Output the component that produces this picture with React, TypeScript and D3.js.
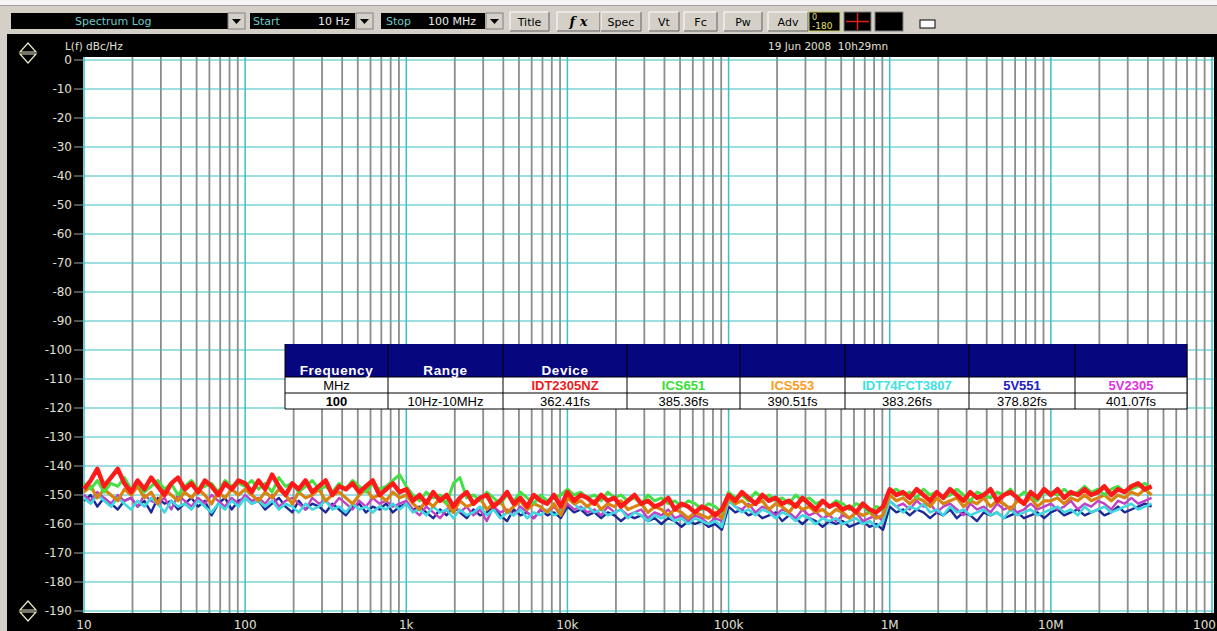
import React from "react";
import * as d3 from "d3";

const W = 1217;
const H = 631;

// Frequency sample grid (typed mantissas per decade, 24 per decade)
const MANT = [1, 1.1, 1.21, 1.33, 1.47, 1.62, 1.78, 1.96, 2.15, 2.37, 2.61, 2.87, 3.16, 3.48, 3.83, 4.22, 4.64, 5.11, 5.62, 6.19, 6.81, 7.5, 8.25, 9.09];
const DECADES = [10, 100, 1e3, 1e4, 1e5, 1e6, 1e7];
const FREQS = DECADES.flatMap((d, i) => (i < 6 ? MANT : MANT.slice(0, 16)).map((m) => m * d));

// Phase noise traces, dBc/Hz, one decade per line
const IDT2305NZ = [
  -148, -145, -141, -147, -144, -141, -146, -149, -145, -148, -144, -147, -150, -146, -144, -148, -146, -149, -145, -147, -150, -146, -148, -145,
  -146, -149, -145, -148, -143, -147, -150, -146, -148, -145, -149, -147, -145, -150, -147, -148, -146, -149, -147, -145, -150, -148, -146, -149,
  -148, -152, -150, -153, -149, -152, -150, -154, -151, -149, -153, -151, -150, -154, -152, -149, -153, -151, -154, -150, -152, -153, -150, -154,
  -149, -152, -150, -151, -153, -150, -152, -151, -154, -152, -150, -153, -152, -154, -153, -151, -155, -153, -154, -156, -154, -155, -157, -155,
  -150, -152, -149, -151, -153, -150, -152, -151, -153, -152, -154, -151, -153, -155, -152, -154, -153, -155, -154, -156, -153, -155, -156, -154,
  -148, -150, -149, -151, -148, -150, -152, -149, -151, -148, -150, -152, -149, -151, -150, -148, -152, -150, -149, -151, -153, -149, -151, -148,
  -150, -148, -151, -149, -150, -148, -150, -149, -147, -150, -148, -149, -147, -146, -148, -147,
];
const ICS651 = [
  -146, -148, -145, -149, -146, -147, -144, -148, -146, -149, -147, -145, -148, -146, -150, -147, -145, -148, -147, -146, -149, -145, -147, -146,
  -147, -145, -148, -146, -149, -144, -147, -146, -149, -147, -145, -148, -147, -149, -146, -148, -145, -147, -149, -146, -148, -147, -145, -143,
  -147, -150, -152, -149, -151, -150, -153, -146, -144, -151, -150, -152, -149, -151, -153, -150, -152, -149, -151, -153, -150, -152, -151, -150,
  -148, -150, -149, -151, -150, -152, -149, -151, -150, -152, -151, -153, -150, -152, -151, -153, -152, -154, -152, -153, -155, -153, -154, -156,
  -149, -151, -150, -152, -149, -151, -150, -152, -151, -153, -150, -152, -151, -153, -152, -154, -152, -153, -155, -153, -154, -156, -154, -155,
  -149, -148, -150, -149, -151, -148, -150, -149, -151, -150, -148, -150, -152, -149, -150, -151, -149, -150, -148, -151, -149, -150, -152, -149,
  -149, -150, -148, -150, -149, -147, -149, -148, -150, -148, -147, -149, -148, -147, -146, -148,
];
const ICS553 = [
  -149, -147, -151, -148, -150, -152, -148, -150, -147, -151, -149, -153, -148, -150, -152, -149, -151, -148, -150, -153, -149, -151, -148, -150,
  -148, -150, -152, -149, -151, -148, -150, -153, -149, -151, -150, -148, -152, -150, -149, -151, -153, -150, -148, -151, -150, -152, -149, -151,
  -150, -153, -155, -152, -154, -151, -153, -156, -152, -154, -153, -151, -155, -153, -152, -156, -154, -152, -155, -153, -154, -156, -153, -157,
  -151, -153, -152, -154, -152, -155, -153, -154, -152, -155, -154, -153, -156, -154, -155, -157, -155, -156, -158, -156, -157, -158, -156, -158,
  -151, -153, -152, -154, -153, -152, -155, -153, -154, -156, -153, -155, -154, -156, -155, -157, -155, -156, -158, -156, -157, -156, -158, -157,
  -150, -152, -151, -153, -151, -152, -154, -151, -153, -152, -151, -154, -152, -153, -151, -154, -152, -153, -155, -152, -153, -151, -154, -152,
  -152, -151, -153, -151, -152, -150, -152, -151, -150, -152, -150, -151, -149, -150, -148, -150,
];
const V2305 = [
  -150, -152, -149, -151, -153, -150, -152, -151, -154, -150, -152, -153, -151, -155, -150, -152, -154, -151, -153, -150, -152, -154, -151, -153,
  -150, -152, -151, -153, -150, -154, -152, -151, -153, -155, -151, -153, -152, -154, -151, -153, -155, -152, -154, -151, -153, -152, -154, -153,
  -152, -155, -157, -154, -156, -158, -155, -153, -156, -154, -157, -155, -159, -154, -156, -155, -157, -154, -156, -158, -155, -156, -154, -157,
  -153, -155, -154, -156, -155, -157, -154, -156, -155, -157, -156, -155, -158, -156, -157, -155, -158, -157, -159, -157, -158, -160, -158, -159,
  -152, -154, -155, -153, -156, -154, -155, -157, -155, -156, -158, -155, -157, -156, -158, -157, -159, -157, -158, -156, -159, -158, -157, -159,
  -152, -154, -153, -155, -152, -154, -153, -156, -154, -153, -155, -157, -153, -155, -154, -156, -153, -155, -154, -156, -155, -153, -155, -154,
  -153, -155, -154, -152, -155, -153, -154, -152, -153, -155, -152, -153, -151, -153, -152, -151,
];
const IDT74FCT3807 = [
  -151, -153, -150, -152, -154, -151, -153, -155, -152, -154, -151, -153, -156, -152, -154, -153, -155, -152, -154, -156, -153, -155, -152, -154,
  -151, -153, -152, -154, -152, -155, -153, -154, -156, -153, -155, -154, -152, -155, -154, -156, -153, -155, -154, -156, -154, -155, -153, -155,
  -153, -156, -155, -157, -154, -156, -155, -158, -155, -157, -156, -154, -157, -155, -158, -156, -157, -155, -158, -156, -157, -155, -157, -156,
  -151, -153, -155, -154, -156, -155, -157, -156, -155, -158, -156, -157, -159, -157, -158, -157, -159, -158, -160, -158, -159, -160, -159, -161,
  -152, -154, -156, -155, -157, -155, -156, -158, -156, -157, -159, -157, -158, -160, -158, -159, -158, -160, -159, -158, -160, -159, -161, -159,
  -152, -154, -156, -154, -155, -153, -156, -155, -157, -154, -156, -155, -157, -156, -155, -157, -156, -158, -155, -157, -156, -155, -157, -156,
  -155, -154, -156, -155, -157, -154, -156, -155, -154, -156, -155, -154, -153, -155, -154, -153,
];
const V551 = [
  -152, -150, -154, -151, -153, -155, -152, -151, -154, -152, -156, -151, -153, -152, -155, -153, -151, -154, -152, -157, -153, -151, -155, -152,
  -151, -153, -152, -155, -153, -151, -154, -156, -152, -155, -153, -154, -156, -153, -155, -157, -154, -153, -156, -154, -155, -153, -156, -154,
  -153, -155, -154, -156, -158, -155, -157, -154, -156, -158, -155, -157, -156, -154, -157, -159, -155, -157, -156, -158, -155, -157, -156, -158,
  -154, -156, -155, -157, -156, -158, -156, -157, -159, -157, -158, -157, -159, -158, -160, -158, -159, -161, -159, -160, -159, -161, -160, -162,
  -154, -156, -155, -157, -156, -158, -157, -156, -159, -157, -158, -160, -158, -159, -161, -159, -160, -159, -161, -160, -159, -161, -160, -162,
  -154, -156, -155, -157, -155, -156, -158, -156, -157, -155, -158, -156, -157, -159, -156, -157, -156, -158, -157, -156, -158, -157, -156, -158,
  -156, -155, -157, -156, -155, -157, -156, -155, -157, -156, -154, -156, -155, -154, -153, -154,
];

// draw order: bottom first, red last
const SERIES = [
  { name: "5V551", values: V551, color: "#1c2896", width: 2.4 },
  { name: "5V2305", values: V2305, color: "#c040c8", width: 2.4 },
  { name: "IDT74FCT3807", values: IDT74FCT3807, color: "#40d8e0", width: 2.6 },
  { name: "ICS553", values: ICS553, color: "#d8840e", width: 3.2 },
  { name: "ICS651", values: ICS651, color: "#44e044", width: 3 },
  { name: "IDT2305NZ", values: IDT2305NZ, color: "#ff1a1a", width: 4.5 },
];

// Table
const TABLE_DEVICES = ["IDT2305NZ", "ICS651", "ICS553", "IDT74FCT3807", "5V551", "5V2305"];
const TABLE_COLORS = ["#ee1c1c", "#33e033", "#ff9a1a", "#40e0e0", "#2020c0", "#e030e0"];
const TABLE_JITTER = ["362.41fs", "385.36fs", "390.51fs", "383.26fs", "378.82fs", "401.07fs"];
const TABLE_COLS = [285, 388, 503, 627, 740, 845, 969, 1075, 1187];

const Y_TICKS = [0, -10, -20, -30, -40, -50, -60, -70, -80, -90, -100, -110, -120, -130, -140, -150, -160, -170, -180, -190];
const X_DECADES = [10, 100, 1e3, 1e4, 1e5, 1e6, 1e7, 1e8];
const X_LABELS = ["10", "100", "1k", "10k", "100k", "1M", "10M", "100"];

const TOOL_BUTTONS = [
  { label: "Title", x0: 510, x1: 549 },
  { label: "f x", x0: 557, x1: 600, italic: true },
  { label: "Spec", x0: 601, x1: 641 },
  { label: "Vt", x0: 649, x1: 679 },
  { label: "Fc", x0: 684, x1: 717 },
  { label: "Pw", x0: 724, x1: 762 },
  { label: "Adv", x0: 768, x1: 808 },
];

const x = d3.scaleLog().domain([10, 1e8]).range([84, 1212]);
const y = d3.scaleLinear().domain([0, -190]).range([60, 611]);

const UI_FONT = "'DejaVu Sans', Verdana, sans-serif";
const TABLE_FONT = "'Liberation Sans', Arial, sans-serif";

function Button({ label, x0, x1, italic }: { label: string; x0: number; x1: number; italic?: boolean }) {
  const y0 = 12, y1 = 31;
  return (
    <g>
      <rect x={x0} y={y0} width={x1 - x0} height={y1 - y0} fill="#d4d0c8" />
      <path d={`M${x0},${y1} L${x0},${y0} L${x1},${y0}`} stroke="#ffffff" fill="none" />
      <path d={`M${x0},${y1} L${x1},${y1} L${x1},${y0}`} stroke="#606060" fill="none" />
      <text
        x={(x0 + x1) / 2}
        y={26}
        textAnchor="middle"
        fontFamily={italic ? "'DejaVu Serif', serif" : UI_FONT}
        fontSize={italic ? 13 : 11}
        fontWeight={italic ? "bold" : "normal"}
        fontStyle={italic ? "italic" : "normal"}
        fill="#000"
      >
        {label}
      </text>
    </g>
  );
}

function Dropdown({ x0 }: { x0: number }) {
  return (
    <g>
      <rect x={x0} y={13} width={17} height={16} fill="#d4d0c8" stroke="#808080" />
      <path d={`M${x0 + 4},${19} L${x0 + 13},${19} L${x0 + 8.5},${24} Z`} fill="#000" />
    </g>
  );
}

function Arrows({ cx, cy }: { cx: number; cy: number }) {
  return (
    <g stroke="#e8e8c8" strokeWidth={1.2} fill="none">
      <path d={`M${cx},${cy - 10} L${cx - 8},${cy - 1} L${cx + 8},${cy - 1} Z`} />
      <path d={`M${cx - 8},${cy + 1} L${cx + 8},${cy + 1} L${cx},${cy + 10} Z`} />
    </g>
  );
}

export default function App() {
  const minorFreqs: number[] = [];
  X_DECADES.slice(0, 7).forEach((d) => {
    [2, 3, 4, 5, 6, 7, 8, 9].forEach((m) => minorFreqs.push(m * d));
  });
  const line = d3
    .line<number>()
    .defined((_, i) => i < FREQS.length)
    .x((_, i) => x(FREQS[i]))
    .y((v) => y(v));

  const rowTop = 344, row2 = 377, row3 = 393, rowEnd = 409;

  return (
    <div style={{ position: "fixed", left: 0, top: 0, width: W, height: H }}>
      <svg width={W} height={H} style={{ display: "block" }}>
        {/* window frame */}
        <rect x={0} y={0} width={W} height={H} fill="#d4d0c8" />
        <rect x={0} y={0} width={W} height={5} fill="#f4f4f4" />
        <line x1={0} x2={W} y1={5.5} y2={5.5} stroke="#a0a0a0" />
        <rect x={7} y={34} width={W - 7} height={H - 34} fill="#000" />

        {/* toolbar */}
        <rect x={11} y={13} width={217} height={16} fill="#000" />
        <text x={75} y={25} fontFamily={UI_FONT} fontSize={11} fill="#6fc8c8">Spectrum Log</text>
        <Dropdown x0={228} />
        <rect x={250} y={13} width={105} height={16} fill="#000" />
        <text x={253} y={25} fontFamily={UI_FONT} fontSize={11} fill="#6fc8c8">Start</text>
        <text x={318} y={25} fontFamily={UI_FONT} fontSize={11} fill="#e8e8e8">10 Hz</text>
        <Dropdown x0={356} />
        <rect x={381} y={13} width={104} height={16} fill="#000" />
        <text x={386} y={25} fontFamily={UI_FONT} fontSize={11} fill="#6fc8c8">Stop</text>
        <text x={428} y={25} fontFamily={UI_FONT} fontSize={11} fill="#e8e8e8">100 MHz</text>
        <Dropdown x0={486} />
        {TOOL_BUTTONS.map((b) => (
          <Button key={b.label} {...b} />
        ))}
        <rect x={809} y={12} width={31} height={19} fill="#000" stroke="#c8c860" />
        <text x={812} y={20} fontFamily={UI_FONT} fontSize={8} fill="#e8e070">0</text>
        <text x={812} y={29} fontFamily={UI_FONT} fontSize={9} fill="#e8e070">-180</text>
        <rect x={844} y={12} width={27} height={19} fill="#000" stroke="#808080" />
        <line x1={846} x2={869} y1={21.5} y2={21.5} stroke="#e02020" strokeWidth={1.5} />
        <line x1={857.5} x2={857.5} y1={13} y2={30} stroke="#e02020" strokeWidth={1.5} />
        <rect x={875} y={12} width={28} height={19} fill="#000" stroke="#808080" />
        <rect x={920} y={20} width={15} height={8} fill="#fff" stroke="#000" />

        {/* header texts */}
        <Arrows cx={28} cy={53} />
        <Arrows cx={28} cy={611} />
        <text x={65} y={50} fontFamily={UI_FONT} fontSize={10.5} fill="#e0e0d8">L(f) dBc/Hz</text>
        <text x={768} y={50} fontFamily={UI_FONT} fontSize={10.5} fill="#e0e0d8">
          19 Jun 2008{"\u00a0\u00a0"}10h29mn
        </text>

        {/* plot area */}
        <rect x={83} y={57} width={1131} height={556} fill="#ffffff" />
        {minorFreqs.map((f) => (
          <line key={"m" + f} x1={x(f)} x2={x(f)} y1={57} y2={613} stroke="#8c8c8c" strokeWidth={1.8} />
        ))}
        {X_DECADES.map((f) => (
          <line key={"d" + f} x1={x(f)} x2={x(f)} y1={57} y2={613} stroke="#3cc0c4" strokeWidth={1.5} />
        ))}
        {Y_TICKS.map((v) => (
          <line key={"h" + v} x1={83} x2={1214} y1={y(v)} y2={y(v)} stroke="#3cc0c4" strokeWidth={1.2} />
        ))}

        {/* traces */}
        {SERIES.map((s) => (
          <path
            key={s.name}
            d={line(s.values) || ""}
            fill="none"
            stroke={s.color}
            strokeWidth={s.width}
            strokeLinejoin="round"
          />
        ))}

        {/* y axis */}
        {Y_TICKS.map((v) => (
          <g key={"yt" + v}>
            <line x1={74} x2={83} y1={y(v)} y2={y(v)} stroke="#a0a0a0" />
            <text
              x={72}
              y={y(v) + 4}
              textAnchor="end"
              fontFamily={UI_FONT}
              fontSize={12}
              fill="#e0e0d8"
            >
              {v}
            </text>
          </g>
        ))}
        {/* x axis */}
        {X_DECADES.map((f, i) => (
          <text
            key={"xt" + f}
            x={i === X_DECADES.length - 1 ? 1216 : x(f)}
            y={629}
            textAnchor={i === X_DECADES.length - 1 ? "end" : "middle"}
            fontFamily={UI_FONT}
            fontSize={12}
            fill="#e0e0d8"
          >
            {X_LABELS[i]}
          </text>
        ))}

        {/* table */}
        <rect x={TABLE_COLS[0]} y={rowTop} width={TABLE_COLS[8] - TABLE_COLS[0]} height={row2 - rowTop} fill="#06067e" />
        <rect x={TABLE_COLS[0]} y={row2} width={TABLE_COLS[8] - TABLE_COLS[0]} height={rowEnd - row2} fill="#ffffff" />
        {TABLE_COLS.map((cx, i) => (
          <line key={"tc" + i} x1={cx} x2={cx} y1={rowTop} y2={rowEnd} stroke="#000" strokeWidth={1} />
        ))}
        <line x1={TABLE_COLS[0]} x2={TABLE_COLS[8]} y1={row2} y2={row2} stroke="#000" />
        <line x1={TABLE_COLS[0]} x2={TABLE_COLS[8]} y1={row3} y2={row3} stroke="#000" />
        <line x1={TABLE_COLS[0]} x2={TABLE_COLS[8]} y1={rowEnd} y2={rowEnd} stroke="#000" />
        {["Frequency", "Range", "Device"].map((t, i) => (
          <text
            key={t}
            x={(TABLE_COLS[i] + TABLE_COLS[i + 1]) / 2}
            y={375}
            textAnchor="middle"
            fontFamily={TABLE_FONT}
            fontWeight="bold"
            fontSize={13.5}
            fill="#ffffff"
            letterSpacing={0.6}
          >
            {t}
          </text>
        ))}
        <text x={(TABLE_COLS[0] + TABLE_COLS[1]) / 2} y={390} textAnchor="middle" fontFamily={TABLE_FONT} fontSize={13} fill="#000">
          MHz
        </text>
        <text x={(TABLE_COLS[0] + TABLE_COLS[1]) / 2} y={406} textAnchor="middle" fontFamily={TABLE_FONT} fontWeight="bold" fontSize={13} fill="#000">
          100
        </text>
        <text x={(TABLE_COLS[1] + TABLE_COLS[2]) / 2} y={406} textAnchor="middle" fontFamily={TABLE_FONT} fontSize={13} fill="#000">
          10Hz-10MHz
        </text>
        {TABLE_DEVICES.map((dname, i) => (
          <g key={dname}>
            <text
              x={(TABLE_COLS[i + 2] + TABLE_COLS[i + 3]) / 2}
              y={390}
              textAnchor="middle"
              fontFamily={TABLE_FONT}
              fontWeight="bold"
              fontSize={13}
              fill={TABLE_COLORS[i]}
            >
              {dname}
            </text>
            <text
              x={(TABLE_COLS[i + 2] + TABLE_COLS[i + 3]) / 2}
              y={406}
              textAnchor="middle"
              fontFamily={TABLE_FONT}
              fontSize={13}
              fill="#000"
            >
              {TABLE_JITTER[i]}
            </text>
          </g>
        ))}
      </svg>
    </div>
  );
}
